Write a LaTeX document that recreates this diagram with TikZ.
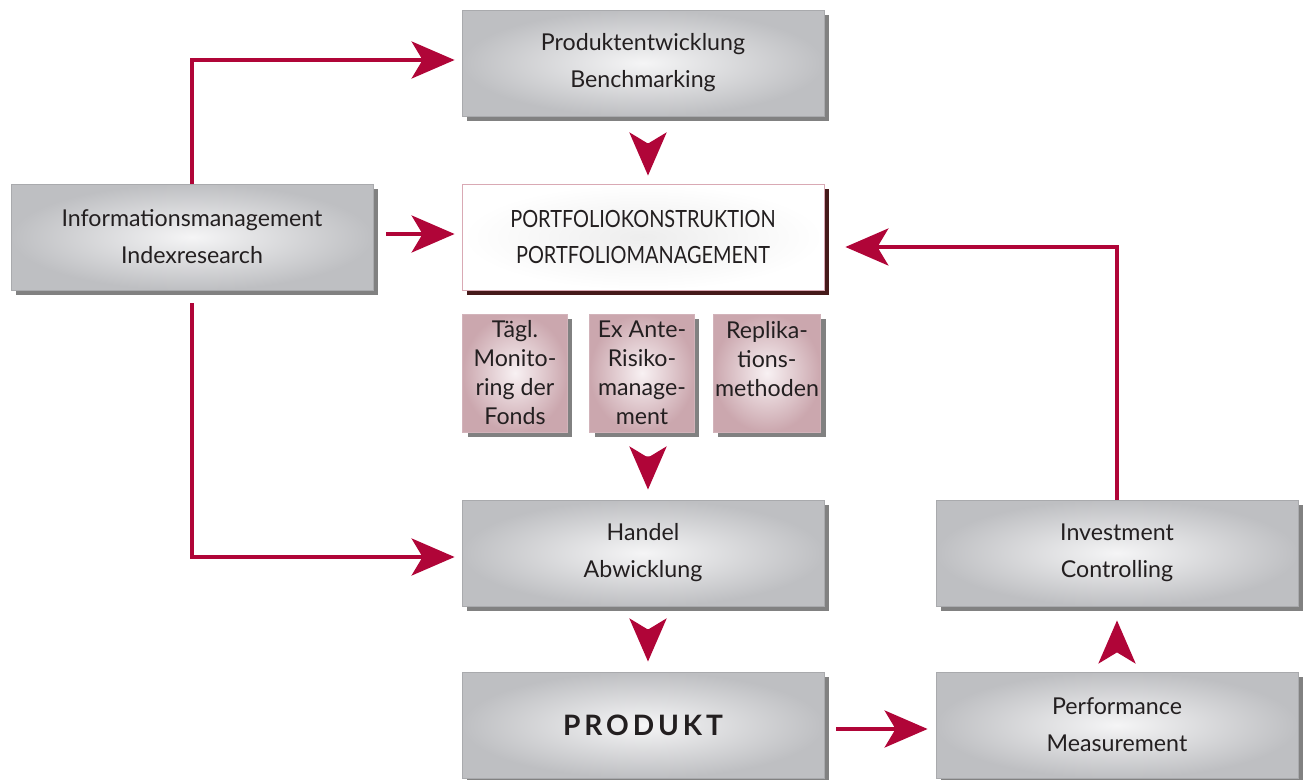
\documentclass[tikz,border=0pt]{standalone}
\usepackage{fontspec}
\setmainfont{Lato}
\usetikzlibrary{arrows.meta,shadows}

\definecolor{crimson}{HTML}{B00538}
\definecolor{ink}{HTML}{231F20}
\definecolor{boxin}{HTML}{F5F5F6}
\definecolor{boxout}{HTML}{BEBFC2}
\definecolor{boxline}{HTML}{A9AAAD}
\definecolor{pinkin}{HTML}{F8F1F3}
\definecolor{pinkout}{HTML}{CBA7AE}
\definecolor{pinkline}{HTML}{D2B3BA}
\definecolor{portline}{HTML}{D9A9B4}

\begin{document}
\begin{tikzpicture}[x=0.02cm,y=-0.02cm,
	box/.style={draw=boxline, line width=0.5pt, shading=radial, inner color=boxin, outer color=boxout,
		minimum width=7.24cm, minimum height=2.12cm, align=center, text=ink,
		font=\fontsize{13.2}{21}\selectfont,
		drop shadow={shadow xshift=1mm, shadow yshift=-1mm, fill=black!55, opacity=.9}},
	smallbox/.style={box, draw=pinkline, inner color=pinkin, outer color=pinkout,
		minimum width=2.1cm, minimum height=2.36cm, inner sep=1pt,
		font=\fontsize{13.2}{16.5}\selectfont},
	portbox/.style={box, draw=portline, inner color=black!7, outer color=white,
		font=\fontsize{13.5}{21}\selectfont\addfontfeature{FakeStretch=0.84},
		drop shadow={shadow xshift=1mm, shadow yshift=-1mm, fill=black!45!red!40!black, opacity=.8}},
	arr/.style={draw=crimson, line width=0.08cm, -{Stealth[length=0.86cm, width=0.74cm, inset=0.22cm]}}]
	\useasboundingbox (0,0) rectangle (1306,780);

	\node[box]      (dev)   at (643,63)   {Produktentwicklung\\Benchmarking};
	\node[portbox]  (port)  at (643,237)  {PORTFOLIOKONSTRUKTION\\PORTFOLIOMANAGEMENT};
	\node[box]      (info)  at (192,237)  {Informationsmanagement\\Indexresearch};
	\node[smallbox] (mon)   at (515,373)  {Tägl.\\Monito-\\ring der\\Fonds};
	\node[smallbox] (risk)  at (642,373)  {Ex Ante-\\Risiko-\\manage-\\ment};
	\node[smallbox] (repl)  at (767,373)  {Replika-\\tions-\\methoden\\~};
	\node[box]      (trade) at (643,553)  {Handel\\Abwicklung};
	\node[box]      (prod)  at (643,725)  {\fontsize{16}{20}\selectfont\bfseries\addfontfeature{LetterSpace=14}PRODUKT};
	\node[box]      (ctrl)  at (1117,553) {Investment\\Controlling};
	\node[box]      (perf)  at (1117,725) {Performance\\Measurement};

	% Pfeile
	\draw[arr, shorten >=0.14cm] (info.north) |- ([yshift=0.06cm]dev.west);
	\draw[arr, shorten <=0.26cm, shorten >=0.14cm] ([yshift=0.06cm]info.east) -- ([yshift=0.06cm]port.west);
	\draw[arr, shorten <=0.26cm, shorten >=0.14cm] (info.south) |- ([yshift=-0.08cm]trade.west);
	\draw[arr, shorten <=0.54cm, shorten >=0.16cm] ([xshift=1mm]dev.south) -- ([xshift=1mm]port.north);
	\draw[arr, shorten <=0.48cm, shorten >=0.2cm] ([xshift=1.2mm]risk.south) -- ([xshift=1mm]trade.north);
	\draw[arr, shorten <=0.46cm, shorten >=0.2cm] ([xshift=1mm]trade.south) -- ([xshift=1mm]prod.north);
	\draw[arr, shorten <=0.24cm, shorten >=0.16cm] ([yshift=-0.08cm]prod.east) -- ([yshift=-0.08cm]perf.west);
	\draw[arr, shorten <=0.42cm, shorten >=0.28cm] (perf.north) -- (ctrl.south);
	\draw[arr, shorten >=0.42cm] (ctrl.north) |- ([yshift=-0.2cm]port.east);
\end{tikzpicture}
\end{document}
